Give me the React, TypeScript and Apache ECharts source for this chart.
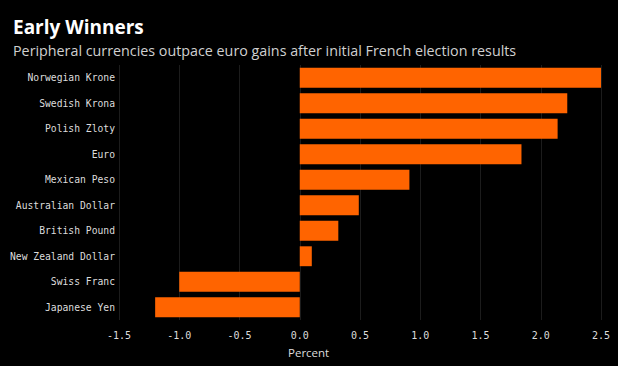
import React, { useEffect, useRef } from "react";
import * as echarts from "echarts";

const categories = [
  "Norwegian Krone",
  "Swedish Krona",
  "Polish Zloty",
  "Euro",
  "Mexican Peso",
  "Australian Dollar",
  "British Pound",
  "New Zealand Dollar",
  "Swiss Franc",
  "Japanese Yen",
];
const values = [2.5, 2.22, 2.14, 1.84, 0.91, 0.49, 0.32, 0.1, -1.0, -1.2];
const titleText = "Early Winners";
const subtitleText = "Peripheral currencies outpace euro gains after initial French election results";
const axisName = "Percent";

export default function App() {
  const ref = useRef<HTMLDivElement>(null);
  useEffect(() => {
    if (!ref.current) return;
    const chart = echarts.init(ref.current, null, { renderer: "svg" });
    chart.setOption({
      animation: false,
      backgroundColor: "#000000",
      title: {
        text: titleText,
        subtext: subtitleText,
        left: 8,
        top: 12,
        itemGap: 7,
        textStyle: { color: "#ffffff", fontSize: 19, fontWeight: "bold", fontFamily: "Open Sans" },
        subtextStyle: { color: "#d0d0d0", fontSize: 14.3, fontFamily: "Open Sans" },
      },
      grid: { left: 119, right: 17, top: 65, bottom: 46, containLabel: false, outerBoundsMode: "none" },
      xAxis: {
        type: "value",
        min: -1.5,
        max: 2.5,
        interval: 0.5,
        axisLine: { show: false },
        axisTick: { show: false },
        splitLine: { show: true, lineStyle: { color: "#1c1c1c", width: 1 } },
        axisLabel: {
          color: "#dddddd",
          fontFamily: "DejaVu Sans Mono",
          fontSize: 10,
          margin: 10,
          formatter: (v: number) => v.toFixed(1),
        },
      },
      yAxis: {
        type: "category",
        data: categories,
        inverse: true,
        axisLine: { show: false },
        axisTick: { show: false },
        splitLine: { show: false },
        axisLabel: {
          color: "#dddddd",
          fontFamily: "DejaVu Sans Mono",
          fontSize: 9.7,
          margin: 4,
        },
      },
      series: [
        {
          type: "bar",
          data: values,
          barWidth: "78%",
          itemStyle: { color: "#ff6400" },
        },
      ],
      graphic: [
        {
          type: "text",
          left: 288,
          top: 346,
          style: { text: axisName, fill: "#dddddd", fontSize: 11.5, fontFamily: "Open Sans" },
        },
      ],
    });
    return () => chart.dispose();
  }, []);
  return <div ref={ref} style={{ width: 618, height: 366, position: "absolute", left: 0, top: 0 }} />;
}
